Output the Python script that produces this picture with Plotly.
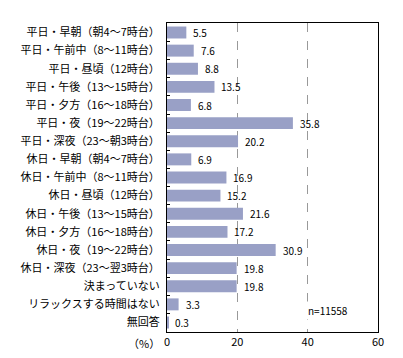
import plotly.graph_objects as go

categories = [
    "平日・早朝（朝4～7時台）",
    "平日・午前中（8～11時台）",
    "平日・昼頃（12時台）",
    "平日・午後（13～15時台）",
    "平日・夕方（16～18時台）",
    "平日・夜（19～22時台）",
    "平日・深夜（23～朝3時台）",
    "休日・早朝（朝4～7時台）",
    "休日・午前中（8～11時台）",
    "休日・昼頃（12時台）",
    "休日・午後（13～15時台）",
    "休日・夕方（16～18時台）",
    "休日・夜（19～22時台）",
    "休日・深夜（23～翌3時台）",
    "決まっていない",
    "リラックスする時間はない",
    "無回答",
]
values = [5.5, 7.6, 8.8, 13.5, 6.8, 35.8, 20.2, 6.9, 16.9, 15.2, 21.6, 17.2, 30.9, 19.8, 19.8, 3.3, 0.3]
x_ticks = [0, 20, 40, 60]

FONT = "Noto Sans CJK JP"

fig = go.Figure()
fig.add_trace(go.Bar(
    x=values, y=categories, orientation="h",
    marker=dict(color="#99a0c6", line=dict(width=0)),
    width=0.66,
    hoverinfo="skip",
))

for c, v in zip(categories, values):
    fig.add_annotation(x=v, y=c, text=f"{v:.1f}", showarrow=False,
                       xanchor="left", xshift=5,
                       font=dict(family=FONT, size=10, color="black"))

fig.add_annotation(xref="paper", yref="paper", x=-0.108, y=-0.036,
                   text="（%）", showarrow=False, xanchor="center", yanchor="middle",
                   font=dict(family=FONT, size=11, color="black"))
fig.add_annotation(x=40, xref="x", yref="paper", y=0.068, text="n=11558",
                   showarrow=False, xanchor="left", yanchor="middle", xshift=-2,
                   bgcolor="white",
                   font=dict(family=FONT, size=10, color="black"))

fig.update_layout(
    width=403, height=358,
    margin=dict(l=148, r=33, t=15, b=34),
    paper_bgcolor="white", plot_bgcolor="white",
    showlegend=False,
    font=dict(family=FONT, size=11, color="black"),
    xaxis=dict(range=[0, 60], tickvals=x_ticks, showgrid=True,
               gridcolor="#999999", griddash="dash", gridwidth=1,
               showline=True, linecolor="black", linewidth=1, mirror=True,
               zeroline=False, ticks="", tickfont=dict(size=11)),
    yaxis=dict(autorange="reversed", showline=True, linecolor="black",
               linewidth=1, mirror=True, ticks="inside", tickson="boundaries",
               ticklen=3, tickcolor="black", showgrid=False,
               tickfont=dict(size=11), ticklabelstandoff=4),
)

fig.write_html("out.html")
